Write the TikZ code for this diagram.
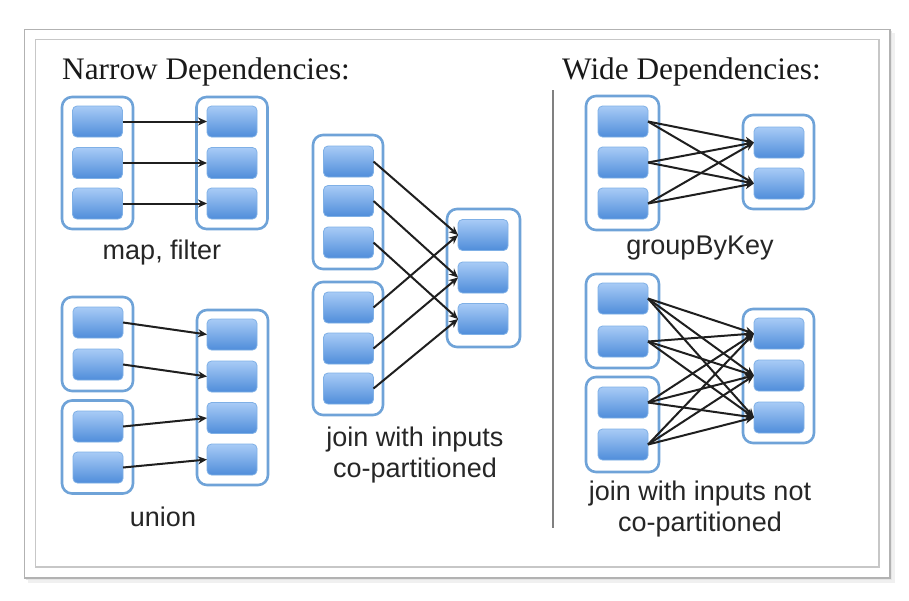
\documentclass[tikz,border=0pt]{standalone}
\usepackage{fontspec}
\setmainfont{Liberation Serif}
\setsansfont{Liberation Sans}
\usetikzlibrary{arrows.meta}
\definecolor{contblue}{HTML}{6FA3D8}
\definecolor{celltop}{HTML}{A8CBF6}
\definecolor{cellbot}{HTML}{4F8DDA}
\definecolor{cellline}{HTML}{7FB0E6}
\begin{document}
\begin{tikzpicture}[x=1pt,y=-1pt,
  cont/.style={draw=contblue,line width=2.6pt,fill=white,rounded corners=10pt,minimum width=71pt,inner sep=0pt,outer sep=0pt},
  cell/.style={draw=cellline,line width=0.8pt,top color=celltop,bottom color=cellbot,rounded corners=4.5pt,minimum width=50pt,minimum height=31pt,inner sep=0pt,outer sep=0pt},
  dep/.style={line width=2pt,draw=black!88,-{Stealth[length=9pt,width=8pt]}},
  lbl/.style={font=\fontsize{27}{31}\selectfont\sffamily,text=black!85,align=center,inner sep=0pt},
  ttl/.style={font=\fontsize{31.3}{35}\selectfont\rmfamily,text=black!90,inner sep=0pt,anchor=base west}
]
\useasboundingbox (0,0) rectangle (909,600);
% frames
\fill[black!6] (28,33) rectangle (895,583);
\fill[black!10] (26,31) rectangle (892,580);
\draw[black!30,line width=1.4pt,fill=white] (24.5,29.5) rectangle (890,578);
\draw[black!22,line width=1.2pt] (35.5,39.5) rectangle (879,567);

% titles
\node[ttl] (tn) at (62,79) {Narrow Dependencies:};
\node[ttl] (tw) at (562,79) {Wide Dependencies:};
\coordinate (dvt) at (553,90);
\coordinate (dvb) at (553,528);
\draw[black!50,line width=1.6pt] (dvt) -- (dvb);

% ---------- map, filter ----------
\node[cont,minimum height=132pt] (mfL) at (97.5,163) {};
\node[cont,minimum height=132pt] (mfR) at (232,163) {};
\foreach \i/\y in {1/121.5,2/163,3/203.5}{
  \node[cell] (mfa\i) at (97.5,\y) {};
  \node[cell] (mfb\i) at (232,\y) {};
  \draw[dep] (mfa\i.east) -- (mfb\i.west);
}
\node[lbl] (lmf) at (162,253) {map, filter};

% ---------- union ----------
\node[cont,minimum height=94pt] (unL1) at (97.5,344) {};
\node[cont,minimum height=93pt] (unL2) at (97.5,447) {};
\node[cont,minimum height=175pt] (unR) at (232.5,397.5) {};
\node[cell] (una1) at (98,322.5) {};
\node[cell] (una2) at (98,364.5) {};
\node[cell] (una3) at (98,426.5) {};
\node[cell] (una4) at (98,467.5) {};
\node[cell] (unb1) at (232,334.5) {};
\node[cell] (unb2) at (232,376.5) {};
\node[cell] (unb3) at (232,418) {};
\node[cell] (unb4) at (232,459.5) {};
\foreach \i in {1,2,3,4}{\draw[dep] (una\i.east) -- (unb\i.west);}
\node[lbl] (lun) at (163,517) {union};

% ---------- join co-partitioned ----------
\node[cont,minimum width=70pt,minimum height=134pt] (jcL1) at (348,202) {};
\node[cont,minimum width=70pt,minimum height=133pt] (jcL2) at (348,348.5) {};
\node[cont,minimum width=73pt,minimum height=138pt] (jcR) at (483.5,278) {};
\node[cell] (jca1) at (348.5,161.5) {};
\node[cell] (jca2) at (348.5,201) {};
\node[cell] (jca3) at (348.5,242.5) {};
\node[cell] (jcc1) at (348.5,307.5) {};
\node[cell] (jcc2) at (348.5,348.5) {};
\node[cell] (jcc3) at (348.5,388.5) {};
\node[cell] (jcb1) at (483,235) {};
\node[cell] (jcb2) at (483,277.5) {};
\node[cell] (jcb3) at (483,319) {};
\foreach \i in {1,2,3}{
  \draw[dep] (jca\i.east) -- (jcb\i.west);
  \draw[dep] (jcc\i.east) -- (jcb\i.west);
}
\node[lbl] (ljc) at (415,455.5) {join with inputs\\co-partitioned};

% ---------- groupByKey ----------
\node[cont,minimum width=73pt,minimum height=134pt] (gbL) at (622.5,163) {};
\node[cont,minimum height=94pt] (gbR) at (778.5,162) {};
\node[cell] (gba1) at (623,121.5) {};
\node[cell] (gba2) at (623,162.5) {};
\node[cell] (gba3) at (623,203.5) {};
\node[cell] (gbb1) at (779,142.5) {};
\node[cell] (gbb2) at (779,183.5) {};
\foreach \i in {1,2,3}{\foreach \j in {1,2}{\draw[dep] (gba\i.east) -- (gbb\j.west);}}
\node[lbl] (lgb) at (700,248) {groupByKey};

% ---------- join not co-partitioned ----------
\node[cont,minimum width=73pt,minimum height=94pt] (jnL1) at (622.5,321) {};
\node[cont,minimum width=73pt,minimum height=95pt] (jnL2) at (622.5,424.5) {};
\node[cont,minimum height=134pt] (jnR) at (778.5,376) {};
\node[cell] (jna1) at (623,298.5) {};
\node[cell] (jna2) at (623,341.5) {};
\node[cell] (jna3) at (623,402.5) {};
\node[cell] (jna4) at (623,444.5) {};
\node[cell] (jnb1) at (779,333.5) {};
\node[cell] (jnb2) at (779,375.5) {};
\node[cell] (jnb3) at (779,417.5) {};
\foreach \i in {1,2,3,4}{\foreach \j in {1,2,3}{\draw[dep] (jna\i.east) -- (jnb\j.west);}}
\node[lbl] (ljn) at (700,509) {join with inputs not\\co-partitioned};
\end{tikzpicture}
\end{document}
